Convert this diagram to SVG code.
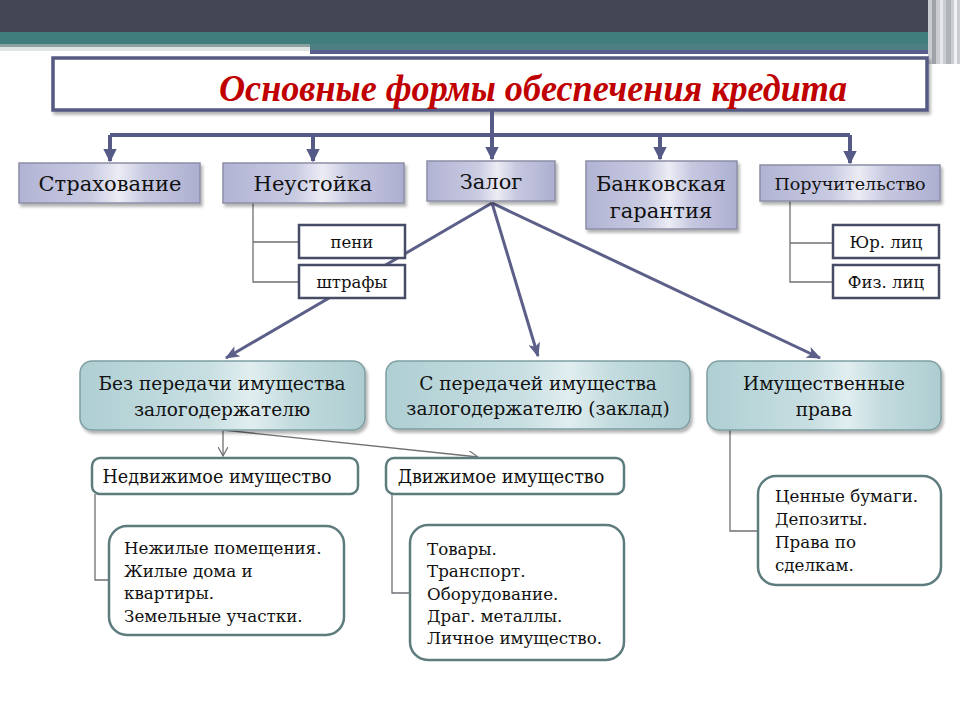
<svg xmlns="http://www.w3.org/2000/svg" width="960" height="720" viewBox="0 0 960 720">
<defs>
<style>
.t{font-family:"DejaVu Serif","Liberation Serif",serif;fill:#111;}
.top{fill:url(#gTop);stroke:#8c8ea6;stroke-width:1.5;filter:url(#sh);}
.mid{fill:url(#gMid);stroke:#7e9ea2;stroke-width:1.5;filter:url(#sh);}
.sub{fill:#fff;stroke:#474c66;stroke-width:2.5;}
.wb{fill:#fff;stroke:#5e7c7e;stroke-width:2.5;}
.bus{fill:none;stroke:#565a86;stroke-width:4;}
.diag{fill:none;stroke:#5c5f88;stroke-width:3;}
.thin{fill:none;stroke:#6e7074;stroke-width:1.3;}
</style>
<linearGradient id="gTop" x1="0" y1="0" x2="1" y2="0">
<stop offset="0" stop-color="#b1b3d4"/><stop offset="0.4" stop-color="#c9cbe2"/><stop offset="0.55" stop-color="#ececf5"/><stop offset="0.7" stop-color="#c6c8e0"/><stop offset="1" stop-color="#adafd1"/>
</linearGradient>
<linearGradient id="gMid" x1="0" y1="0" x2="1" y2="0">
<stop offset="0" stop-color="#afcfd3"/><stop offset="0.45" stop-color="#c8dfe2"/><stop offset="0.6" stop-color="#e1eef0"/><stop offset="0.75" stop-color="#c2dbde"/><stop offset="1" stop-color="#aecdd1"/>
</linearGradient>
<filter id="sh" x="-10%" y="-10%" width="120%" height="130%">
<feDropShadow dx="2" dy="3" stdDeviation="1.5" flood-color="#000" flood-opacity="0.3"/>
</filter>
<marker id="aBus" viewBox="0 0 10 10" refX="9" refY="5" markerWidth="3.4" markerHeight="3.4" orient="auto" markerUnits="strokeWidth">
<path d="M0,0 L10,5 L0,10 Z" fill="#565a86"/>
</marker>
<marker id="aDiag" viewBox="0 0 12 10" refX="11" refY="5" markerWidth="5" markerHeight="4" orient="auto" markerUnits="strokeWidth">
<path d="M0,0 L12,5 L0,10 L3,5 Z" fill="#5c5f88"/>
</marker>
<marker id="aThin" viewBox="0 0 10 10" refX="9" refY="5" markerWidth="8" markerHeight="8" orient="auto" markerUnits="strokeWidth">
<path d="M0,0 L9,5 L0,10" fill="none" stroke="#6e7074" stroke-width="1.2"/>
</marker>
</defs>

<!-- header decoration -->
<rect x="0" y="0" width="960" height="32" fill="#434655"/>
<rect x="0" y="32" width="960" height="12" fill="#3f7e7d"/>
<rect x="0" y="44" width="310" height="3" fill="#8aa3a2"/>
<rect x="0" y="47" width="310" height="4" fill="#dfe5e4"/>
<rect x="310" y="44" width="620" height="6" fill="#4d7f82"/>
<rect x="310" y="50" width="620" height="4" fill="#5a5e8e"/>
<rect x="928" y="0" width="32" height="64" fill="#c9ccd0"/>
<rect x="932" y="0" width="4" height="64" fill="#9fa3a8"/>
<rect x="940" y="0" width="3" height="64" fill="#e5e7ea"/>
<rect x="946" y="0" width="5" height="64" fill="#b0b4b8"/>
<rect x="954" y="0" width="3" height="64" fill="#eef0f2"/>

<g id="title">
<rect x="53" y="58" width="874" height="52" fill="#fff" stroke="#545a82" stroke-width="3.5" filter="url(#sh)"/>
<text x="533" y="101" text-anchor="middle" font-family="'Liberation Serif',serif" font-weight="bold" font-style="italic" font-size="38" fill="#c00000" textLength="628" lengthAdjust="spacingAndGlyphs">Основные формы обеспечения кредита</text>
</g>

<g id="connectors">
<path class="bus" d="M492,110 V135"/>
<path class="bus" d="M110,135 H850"/>
<path class="bus" d="M110,135 V161" marker-end="url(#aBus)"/>
<path class="bus" d="M313,135 V161" marker-end="url(#aBus)"/>
<path class="bus" d="M492,135 V159" marker-end="url(#aBus)"/>
<path class="bus" d="M660,135 V159" marker-end="url(#aBus)"/>
<path class="bus" d="M850,135 V163" marker-end="url(#aBus)"/>
<path class="thin" d="M253,203 V282 H299 M253,242 H299"/>
<path class="thin" d="M790,201 V282 H833 M790,243 H833"/>
<path class="diag" d="M492,203 L226,358" marker-end="url(#aDiag)"/>
<path class="diag" d="M492,203 L538,356" marker-end="url(#aDiag)"/>
<path class="diag" d="M492,203 L820,358" marker-end="url(#aDiag)"/>
<path class="thin" d="M223,430 V456" marker-end="url(#aThin)"/>
<path class="thin" d="M223,430 L478,457" marker-end="url(#aThin)"/>
<path class="thin" d="M95,494 V580 H109"/>
<path class="thin" d="M392,494 V593 H410"/>
<path class="thin" d="M730,430 V531 H758"/>
</g>

<g id="insurance">
<rect class="top" x="19" y="163" width="181" height="40"/>
<text class="t" x="110" y="191" text-anchor="middle" font-size="21">Страхование</text>
</g>
<g id="penalty">
<rect class="top" x="223" y="163" width="181" height="40"/>
<text class="t" x="313" y="191" text-anchor="middle" font-size="21">Неустойка</text>
</g>
<g id="pledge">
<rect class="top" x="427" y="161" width="128" height="40"/>
<text class="t" x="491" y="189" text-anchor="middle" font-size="21">Залог</text>
</g>
<g id="bank-guarantee">
<rect class="top" x="586" y="161" width="151" height="68"/>
<text class="t" x="661" y="191" text-anchor="middle" font-size="21">Банковская</text>
<text class="t" x="661" y="218" text-anchor="middle" font-size="21">гарантия</text>
</g>
<g id="surety">
<rect class="top" x="760" y="165" width="180" height="36"/>
<text class="t" x="850" y="190" text-anchor="middle" font-size="17.5">Поручительство</text>
</g>

<g id="peni">
<rect class="sub" x="299" y="225" width="106" height="33"/>
<text class="t" x="352" y="248" text-anchor="middle" font-size="16.5">пени</text>
</g>
<g id="fines">
<rect class="sub" x="299" y="265" width="106" height="33"/>
<text class="t" x="352" y="288" text-anchor="middle" font-size="16.5">штрафы</text>
</g>
<g id="legal">
<rect class="sub" x="833" y="225" width="106" height="33"/>
<text class="t" x="886" y="248" text-anchor="middle" font-size="16.5">Юр. лиц</text>
</g>
<g id="physical">
<rect class="sub" x="833" y="265" width="106" height="33"/>
<text class="t" x="886" y="288" text-anchor="middle" font-size="16.5">Физ. лиц</text>
</g>

<g id="no-transfer">
<rect class="mid" x="80" y="361" width="285" height="69" rx="12"/>
<text class="t" x="222" y="390" text-anchor="middle" font-size="18.5">Без передачи имущества</text>
<text class="t" x="222" y="416" text-anchor="middle" font-size="18.5">залогодержателю</text>
</g>
<g id="with-transfer">
<rect class="mid" x="386" y="361" width="304" height="68" rx="12"/>
<text class="t" x="538" y="390" text-anchor="middle" font-size="18.5">С передачей имущества</text>
<text class="t" x="538" y="415" text-anchor="middle" font-size="18.5">залогодержателю (заклад)</text>
</g>
<g id="property-rights">
<rect class="mid" x="707" y="361" width="234" height="69" rx="12"/>
<text class="t" x="824" y="390" text-anchor="middle" font-size="18.5">Имущественные</text>
<text class="t" x="824" y="416" text-anchor="middle" font-size="18.5">права</text>
</g>

<g id="immovable">
<rect class="wb" x="92" y="458" width="266" height="36" rx="8"/>
<text class="t" x="217" y="483" text-anchor="middle" font-size="17.6">Недвижимое имущество</text>
</g>
<g id="movable">
<rect class="wb" x="386" y="458" width="238" height="36" rx="8"/>
<text class="t" x="501" y="483" text-anchor="middle" font-size="17.6">Движимое имущество</text>
</g>

<g id="immovable-list">
<rect class="wb" x="109" y="526" width="235" height="109" rx="18"/>
<text class="t" font-size="16.7"><tspan x="124" y="554">Нежилые помещения.</tspan><tspan x="124" y="577">Жилые дома и</tspan><tspan x="124" y="599">квартиры.</tspan><tspan x="124" y="622">Земельные участки.</tspan></text>
</g>
<g id="movable-list">
<rect class="wb" x="410" y="525" width="214" height="135" rx="18"/>
<text class="t" font-size="16.7"><tspan x="427" y="555">Товары.</tspan><tspan x="427" y="577">Транспорт.</tspan><tspan x="427" y="600">Оборудование.</tspan><tspan x="427" y="622">Драг. металлы.</tspan><tspan x="427" y="644">Личное имущество.</tspan></text>
</g>
<g id="rights-list">
<rect class="wb" x="758" y="476" width="183" height="109" rx="18"/>
<text class="t" font-size="16.7"><tspan x="775" y="502">Ценные бумаги.</tspan><tspan x="775" y="525">Депозиты.</tspan><tspan x="775" y="548">Права по</tspan><tspan x="775" y="571">сделкам.</tspan></text>
</g>
</svg>
